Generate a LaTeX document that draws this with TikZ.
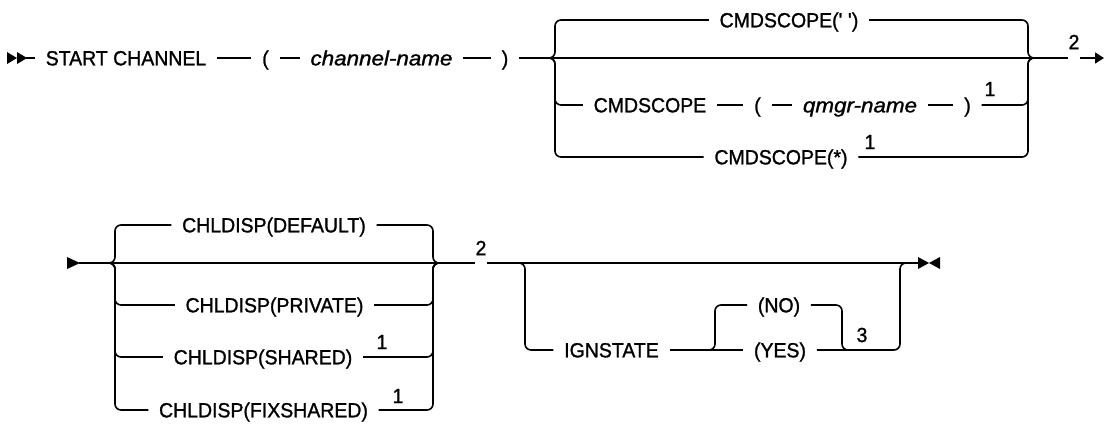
\documentclass[tikz,border=0pt]{standalone}
\usepackage{fontspec}
\usepackage{graphicx}
\setmainfont{Liberation Sans}[FakeStretch=0.95, FakeBold=1.2]
\usetikzlibrary{arrows.meta}
\newcommand\vname[1]{\scalebox{1.15}[1]{\itshape #1}}
\begin{document}
\begin{tikzpicture}[x=1pt,y=-1pt, line width=1.6pt,
  every node/.style={font=\fontsize{20.5}{22}\selectfont},
  tx/.style={inner xsep=10pt, inner ysep=0pt, text height=14.7pt, text depth=0pt},
  sup/.style={inner sep=0pt},
  br/.style={rounded corners=6pt},
  endmark/.style={fill=black, draw=none}]
\useasboundingbox (0,0) rectangle (1105,423);

% ---------------- top line ----------------
\fill[endmark] (7,52) -- (17,58) -- (7,64) -- cycle;
\fill[endmark] (17,52) -- (27,58) -- (17,64) -- cycle;
\coordinate (s0) at (26,58);
\node[tx] (sc)  at (126,58)   {START CHANNEL};
\node[tx] (lp1) at (265.5,58) {(};
\node[tx] (cn)  at (381.5,58) {\vname{channel-name}};
\node[tx] (rp1) at (505,58)   {)};

\coordinate (bL) at (549,58);
\coordinate (ta1) at (555,20);
\coordinate (ta2) at (555,105);
\coordinate (ta3) at (555,157);
\coordinate (tb) at (1028,58);
\coordinate (bR) at (1034,58);
\coordinate (g1) at (1068,58);
\coordinate (g2) at (1080,58);
\coordinate (e1) at (1104,58);

\node[tx] (o1)  at (789,20)    {CMDSCOPE(\textquotesingle\ \textquotesingle)};
\node[tx] (o2a) at (650,105)   {CMDSCOPE};
\node[tx] (lp2) at (757.5,105) {(};
\node[tx] (qn)  at (860,105)   {\vname{qmgr-name}};
\node[tx] (rp2) at (967.5,105) {)};
\node[sup] (n1a) at (990,89)   {1};
\node[tx] (o3)  at (781,157)   {CMDSCOPE(*)};
\node[sup] (n1b) at (870,142)  {1};
\node[sup] (n2a) at (1074,42)  {2};

\draw (s0) -- (sc);
\draw (sc) -- (lp1);
\draw (lp1) -- (cn);
\draw (cn) -- (rp1);
\draw (rp1) -- (g1);
\draw[-{Triangle[length=9pt,width=11pt]}] (g2) -- (e1);

\draw[br] (bL) -| (ta1) -- (o1);
\draw[br] (o1) -| (tb) -- (bR);
\draw[br] (bL) -| (ta2) -- (o2a);
\draw (o2a) -- (lp2);
\draw (lp2) -- (qn);
\draw (qn) -- (rp2);
\draw[br] (rp2) -| (tb) -- (bR);
\draw[br] (bL) -| (ta3) -- (o3);
\draw[br] (o3) -| (tb) -- (bR);

% ---------------- bottom line ----------------
\fill[endmark] (67,257) -- (80,263) -- (67,269) -- cycle;
\coordinate (t0) at (79,263);
\coordinate (cL) at (109,263);
\coordinate (dv1) at (115,225);
\coordinate (dv2) at (115,305);
\coordinate (dv3) at (115,357);
\coordinate (dv4) at (115,410);
\coordinate (rj) at (433,263);
\coordinate (cR) at (439,263);
\coordinate (g3) at (475,263);
\coordinate (g4) at (487,263);

\node[tx] (d1) at (274,225)   {CHLDISP(DEFAULT)};
\node[tx] (d2) at (274.5,305) {CHLDISP(PRIVATE)};
\node[tx] (d3) at (263,357)   {CHLDISP(SHARED)};
\node[sup] (n1c) at (382,342) {1};
\node[tx] (d4) at (263.5,410) {CHLDISP(FIXSHARED)};
\node[sup] (n1d) at (398,396) {1};
\node[sup] (n2b) at (481,248) {2};

\draw (t0) -- (g3);
\draw[br] (cL) -| (dv1) -- (d1);
\draw[br] (cL) -| (dv2) -- (d2);
\draw[br] (cL) -| (dv3) -- (d3);
\draw[br] (cL) -| (dv4) -- (d4);
\draw[br] (d1) -| (rj) -- (cR);
\draw[br] (d2) -| (rj) -- (cR);
\draw[br] (d3) -| (rj) -- (cR);
\draw[br] (d4) -| (rj) -- (cR);

\coordinate (e0) at (918,263);
\coordinate (ib) at (519,263);
\coordinate (iv) at (525,350);
\coordinate (il) at (709,350);
\coordinate (il2) at (715,305);
\coordinate (ir) at (842,350);
\coordinate (ij) at (848,350);
\coordinate (ov) at (900,263);
\coordinate (oj) at (906,263);

\node[tx] (ign) at (611.5,350) {IGNSTATE};
\node[tx] (no)  at (779,305)   {(NO)};
\node[tx] (yes) at (780,350)   {(YES)};
\node[sup] (n3) at (862,335)   {3};

\draw (g4) -- (e0);
\draw[br] (ib) -| (iv) -- (ign);
\draw (ign) -- (yes);
\draw[br] (il) -| (il2) -- (no);
\draw[br] (no) -| (ir) -- (ij);
\draw[br] (yes) -| (ov) -- (oj);

\fill[endmark] (918,257) -- (929,263) -- (918,269) -- cycle;
\fill[endmark] (940,257) -- (929,263) -- (940,269) -- cycle;
\end{tikzpicture}
\end{document}
